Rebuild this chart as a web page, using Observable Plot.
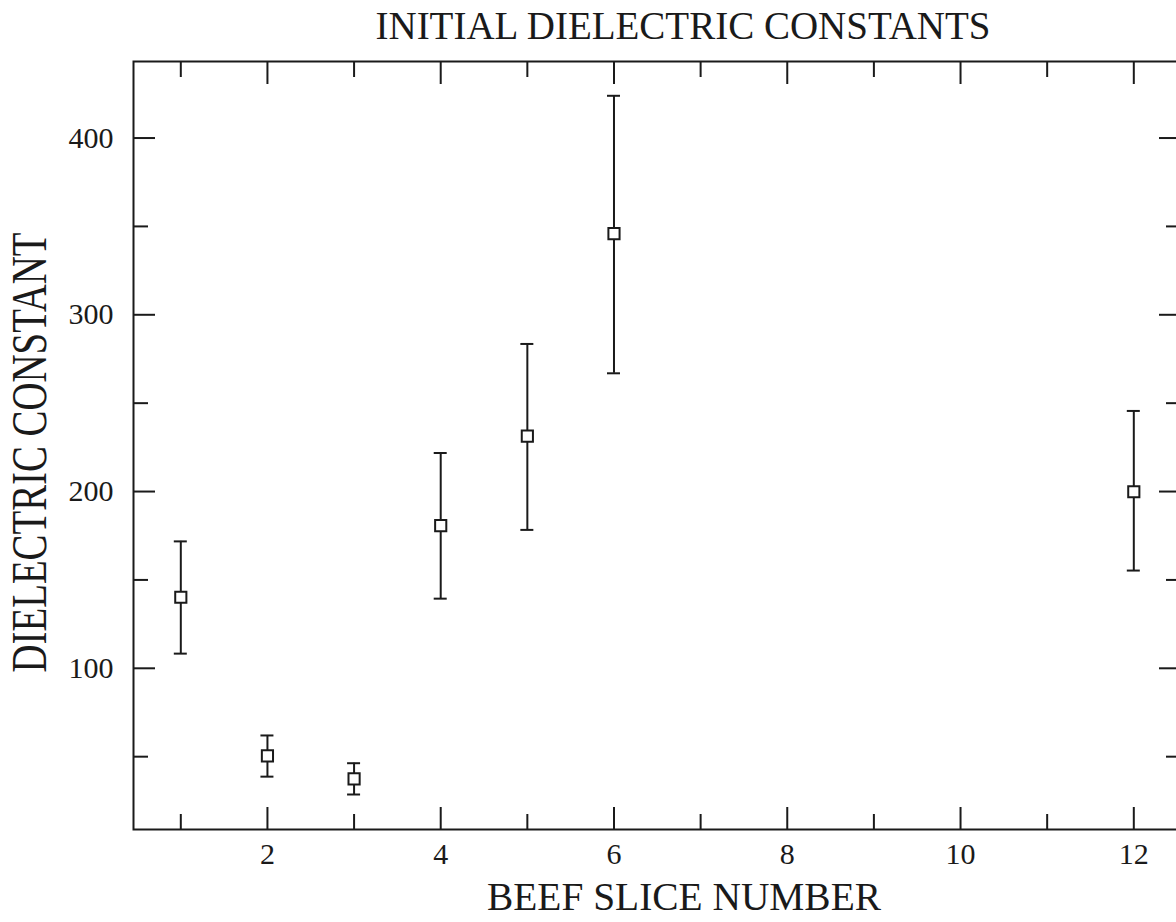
<!DOCTYPE html>
<html><head><meta charset="utf-8">
<script src="https://cdn.jsdelivr.net/npm/d3@7"></script>
<script src="https://cdn.jsdelivr.net/npm/@observablehq/plot@0.6"></script>
<style>html,body{margin:0;padding:0;background:#fff;overflow:hidden;width:1176px;height:922px}#chart svg{max-width:none!important}</style>
</head><body><div id="chart"></div>
<script>
const slices = [1, 2, 3, 4, 5, 6, 12];
const dielectric = [140.2, 50.5, 37.4, 180.7, 231.4, 345.9, 199.9];
const errLow = [108.3, 38.7, 28.6, 139.4, 178.3, 266.9, 155.3];
const errHigh = [171.8, 62.0, 46.3, 221.8, 283.5, 423.9, 245.6];
const xMajorTicks = [2, 4, 6, 8, 10, 12];
const xMinorTicks = [1, 3, 5, 7, 9, 11];
const yMajorTicks = [100, 200, 300, 400];
const yMinorTicks = [50, 150, 250, 350];
const title = "INITIAL DIELECTRIC CONSTANTS";
const xLabel = "BEEF SLICE NUMBER";
const yLabel = "DIELECTRIC CONSTANT";

const data = slices.map((s, i) => ({slice: s, value: dielectric[i], lo: errLow[i], hi: errHigh[i]}));
const ink = "#1a1a1a";
const font = "'Liberation Serif', 'Times New Roman', serif";
const lw = 2;

const chart = Plot.plot({
  width: 1200, height: 922,
  marginLeft: 133, marginRight: 20, marginTop: 61, marginBottom: 93,
  style: {fontFamily: font, background: "#fff", color: ink, overflow: "visible", maxWidth: "none"},
  x: {domain: [0.454, 12.539], label: null},
  y: {domain: [8.8, 443.3], label: null},
  marks: [
    Plot.frame({stroke: ink, strokeWidth: lw}),
    Plot.axisX(xMajorTicks, {anchor: "bottom", tickSize: -22, tickFormat: () => "", strokeWidth: lw, label: null}),
    Plot.axisX(xMinorTicks, {anchor: "bottom", tickSize: -15, tickFormat: () => "", strokeWidth: lw, label: null}),
    Plot.axisX(xMajorTicks, {anchor: "top", tickSize: -22, tickFormat: () => "", strokeWidth: lw, label: null}),
    Plot.axisX(xMinorTicks, {anchor: "top", tickSize: -15, tickFormat: () => "", strokeWidth: lw, label: null}),
    Plot.axisY(yMajorTicks, {anchor: "left", tickSize: -22, tickFormat: () => "", strokeWidth: lw, label: null}),
    Plot.axisY(yMinorTicks, {anchor: "left", tickSize: -15, tickFormat: () => "", strokeWidth: lw, label: null}),
    Plot.axisY(yMajorTicks, {anchor: "right", tickSize: -22, tickFormat: () => "", strokeWidth: lw, label: null}),
    Plot.axisY(yMinorTicks, {anchor: "right", tickSize: -15, tickFormat: () => "", strokeWidth: lw, label: null}),
    Plot.axisX(xMajorTicks, {anchor: "bottom", tickSize: 0, tickPadding: 13, fontSize: 30, label: null}),
    Plot.axisY(yMajorTicks, {anchor: "left", tickSize: 0, tickPadding: 20, fontSize: 30, label: null}),
    Plot.ruleX(data, {x: "slice", y1: "lo", y2: "hi", stroke: ink, strokeWidth: lw}),
    Plot.ruleY(data, {y: "lo", x1: "slice", x2: "slice", insetLeft: -6.5, insetRight: -6.5, stroke: ink, strokeWidth: lw}),
    Plot.ruleY(data, {y: "hi", x1: "slice", x2: "slice", insetLeft: -6.5, insetRight: -6.5, stroke: ink, strokeWidth: lw}),
    Plot.dot(data, {x: "slice", y: "value", symbol: "square", r: 6.3, fill: "#fff", stroke: ink, strokeWidth: lw}),
    Plot.text([title], {text: d => d, frameAnchor: "top", textAnchor: "middle", lineAnchor: "top", dx: 26, dy: -50, fontSize: 39, fill: ink}),
    Plot.text([xLabel], {text: d => d, frameAnchor: "bottom", textAnchor: "middle", lineAnchor: "middle", dx: 27, dy: 68, fontSize: 39.4, fill: ink}),
    Plot.text([yLabel], {text: d => d, frameAnchor: "left", textAnchor: "middle", lineAnchor: "middle", rotate: -90, dx: -104, dy: 7, fontSize: 50, fill: ink, className: "ylab"})
  ]
});
document.getElementById("chart").append(chart);
d3.select(chart).selectAll("g.ylab text").attr("textLength", 440).attr("lengthAdjust", "spacingAndGlyphs");
</script>
</body></html>
